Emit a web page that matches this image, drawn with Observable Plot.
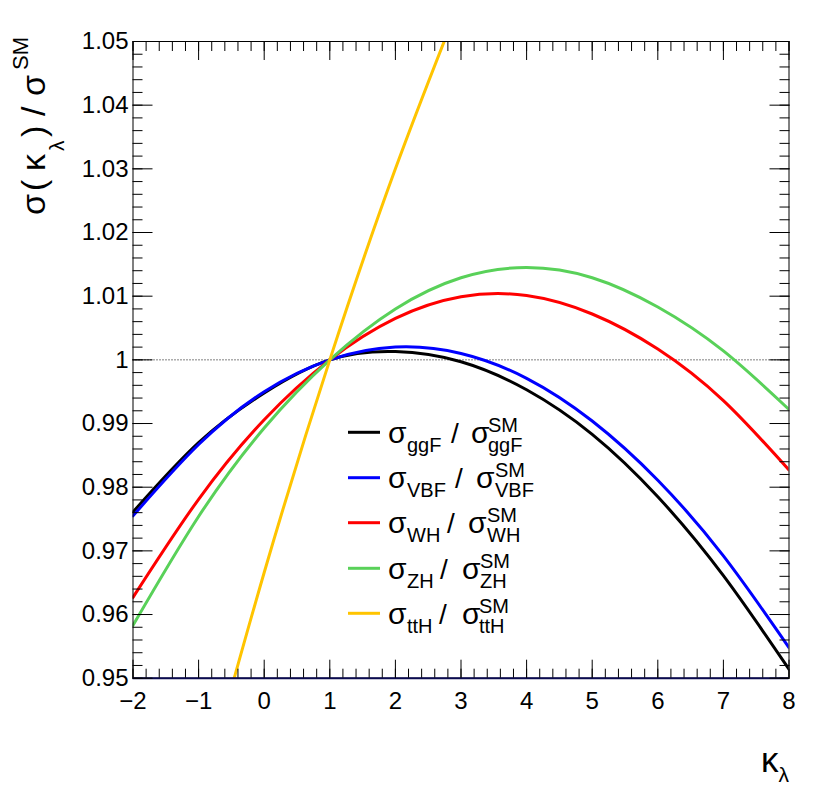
<!DOCTYPE html>
<html><head><meta charset="utf-8">
<script src="https://cdn.jsdelivr.net/npm/d3@7"></script>
<script src="https://cdn.jsdelivr.net/npm/@observablehq/plot@0.6"></script>
<style>
body{margin:0;background:#fff}
svg{font-family:"Liberation Sans",Arial,Helvetica,sans-serif}
</style>
</head><body><div id="chart"></div>
<script>
// ---- data ----
const kappa = [-2, -1, 0, 1, 2, 3, 4, 5, 6, 7, 8];
const ggF = [0.9761, 0.9870, 0.9948, 1.0000, 1.0013, 0.9997, 0.9953, 0.9883, 0.9785, 0.9661, 0.9514];
const VBF = [0.9755, 0.9867, 0.9950, 1.0000, 1.0020, 1.0010, 0.9971, 0.9904, 0.9811, 0.9692, 0.9548];
const WH  = [0.9627, 0.9781, 0.9906, 1.0000, 1.0065, 1.0099, 1.0101, 1.0072, 1.0017, 0.9936, 0.9827];
const ZH  = [0.9583, 0.9754, 0.9893, 1.0000, 1.0080, 1.0129, 1.0145, 1.0129, 1.0083, 1.0014, 0.9922];
const kappaTTH = [-1, 0, 1, 2, 3];
const ttH = [0.9298, 0.9666, 1.0000, 1.0300, 1.0567];

const seriesNames = ["ggF", "VBF", "WH", "ZH", "ttH"];
const seriesColors = ["#000000", "#0000ff", "#ff0000", "#59d159", "#ffc400"];
const xTicks = [-2, -1, 0, 1, 2, 3, 4, 5, 6, 7, 8];
const yTicks = [0.95, 0.96, 0.97, 0.98, 0.99, 1.00, 1.01, 1.02, 1.03, 1.04, 1.05];
const xMinor = d3.range(0, 51).map(i => -2 + i * 0.2);
const yMinor = d3.range(0, 51).map(i => 0.95 + i * 0.002);

// legend layout (pixels)
const legendRowY = [432.3, 477.7, 522.7, 568.3, 613.3];
const legendSlashX = [451, 455, 447, 440, 439];
const legendSigmaX = [471, 476, 468, 462, 462];
const legendSupX   = [488, 495, 487, 480, 479];

// ---- long table ----
const rows = [];
[[kappa, ggF], [kappa, VBF], [kappa, WH], [kappa, ZH], [kappaTTH, ttH]].forEach(([ks, vs], si) => {
  ks.forEach((k, i) => rows.push({k, v: vs[i], s: seriesNames[si]}));
});

const none = () => "";
const yFmt = d => String(Math.round(d * 100) / 100);

const chart = Plot.plot({
  width: 830, height: 807,
  marginLeft: 132.5, marginRight: 41.5, marginTop: 41, marginBottom: 129.3,
  x: {domain: [-2, 8]},
  y: {domain: [0.95, 1.05]},
  color: {domain: seriesNames, range: seriesColors},
  style: {fontFamily: '"Liberation Sans",Arial,sans-serif', fontSize: "24px", color: "black", background: "white"},
  marks: [
    Plot.ruleY([1], {stroke: "black", strokeWidth: 1, strokeDasharray: "1,2"}),
    Plot.line(rows, {x: "k", y: "v", z: "s", stroke: "s", strokeWidth: 3, curve: "natural", clip: true}),
    Plot.frame({stroke: "black", strokeWidth: 1}),
    Plot.ruleY([0.95], {stroke: "#0a0a50", strokeWidth: 2}),
    // labels
    Plot.axisY({ticks: yTicks, tickSize: 0, tickPadding: 4.5, tickFormat: yFmt, label: null, fontSize: 24}),
    Plot.axisX({ticks: xTicks, tickSize: 0, tickPadding: 14, label: null, fontSize: 24}),
    // inward ticks: left
    Plot.axisY({ticks: yTicks, tickSize: 20, dx: 20, tickFormat: none, label: null}),
    Plot.axisY({ticks: yMinor, tickSize: 10, dx: 10, tickFormat: none, label: null}),
    // right
    Plot.axisY({anchor: "right", ticks: yTicks, tickSize: 20, dx: -20, tickFormat: none, label: null}),
    Plot.axisY({anchor: "right", ticks: yMinor, tickSize: 10, dx: -10, tickFormat: none, label: null}),
    // bottom
    Plot.axisX({ticks: xTicks, tickSize: 18, dy: -18, tickFormat: none, label: null}),
    Plot.axisX({ticks: xMinor, tickSize: 9, dy: -9, tickFormat: none, label: null}),
    // top
    Plot.axisX({anchor: "top", ticks: xTicks, tickSize: 18, dy: 18, tickFormat: none, label: null}),
    Plot.axisX({anchor: "top", ticks: xMinor, tickSize: 9, dy: 9, tickFormat: none, label: null})
  ]
});
document.getElementById("chart").appendChild(chart);

const svg = d3.select(chart);

// ---- legend ----
const lg = svg.append("g").attr("fill", "black").attr("text-anchor", "start");
seriesNames.forEach((name, i) => {
  const yl = legendRowY[i];
  lg.append("line").attr("x1", 348).attr("x2", 380).attr("y1", yl).attr("y2", yl)
    .attr("stroke", seriesColors[i]).attr("stroke-width", 3);
  const base = yl + 10.7;
  lg.append("text").attr("x", 388).attr("y", base).attr("font-size", 30).text("σ");
  lg.append("text").attr("x", 407).attr("y", base + 9).attr("font-size", 20).text(name);
  lg.append("text").attr("x", legendSlashX[i]).attr("y", base).attr("font-size", 28).text("/");
  lg.append("text").attr("x", legendSigmaX[i]).attr("y", base).attr("font-size", 30).text("σ");
  lg.append("text").attr("x", legendSupX[i]).attr("y", base - 11).attr("font-size", 20).text("SM");
  lg.append("text").attr("x", legendSupX[i]).attr("y", base + 9).attr("font-size", 20).text(name);
});

// ---- y title ----
const yt = svg.append("text").attr("transform", "translate(45,215) rotate(-90)")
  .attr("text-anchor", "start").attr("font-size", 34).attr("fill", "black");
yt.append("tspan").attr("x", 0).text("σ");
yt.append("tspan").attr("x", 24).text("(");
yt.append("tspan").attr("x", 44).text("κ");
yt.append("tspan").attr("x", 64).attr("font-size", 21).attr("dy", 19).text("λ");
yt.append("tspan").attr("x", 78).attr("dy", -19).text(")");
yt.append("tspan").attr("x", 99).text("/");
yt.append("tspan").attr("x", 119).text("σ");
yt.append("tspan").attr("x", 145).attr("font-size", 22).attr("dy", -17).text("SM");

// ---- x title ----
const xt = svg.append("text").attr("x", 789).attr("y", 772).attr("text-anchor", "end")
  .attr("font-size", 35).attr("fill", "black");
xt.append("tspan").text("κ");
xt.append("tspan").attr("font-size", 21).attr("dy", 10).text("λ");
</script>
</body></html>
